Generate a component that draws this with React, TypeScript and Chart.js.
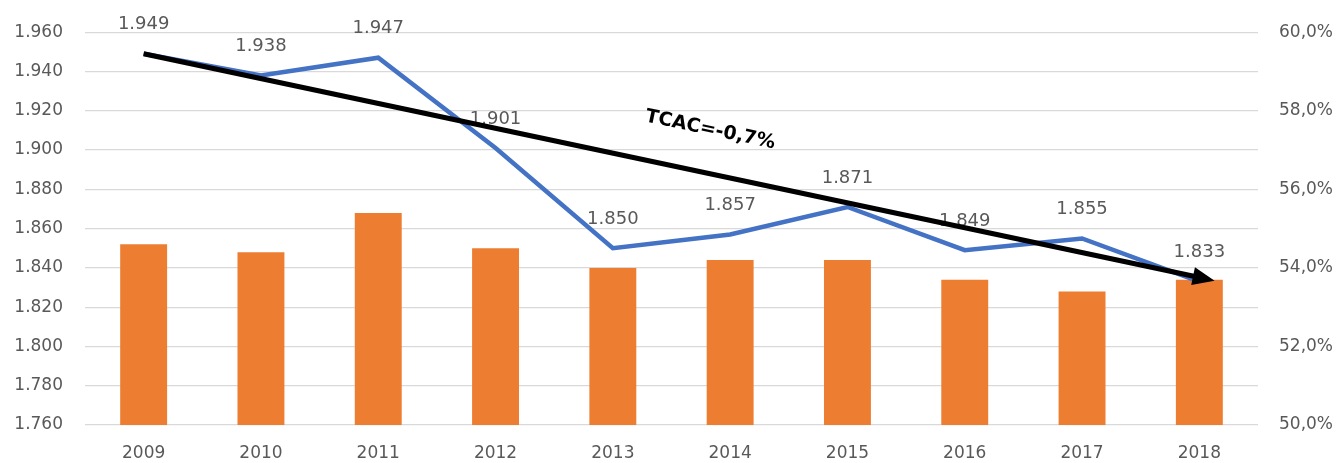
import React, { useEffect, useRef } from "react";
import { Chart, registerables } from "chart.js";

Chart.register(...registerables);

const years = ["2009", "2010", "2011", "2012", "2013", "2014", "2015", "2016", "2017", "2018"];
const lineValues = [1949, 1938, 1947, 1901, 1850, 1857, 1871, 1849, 1855, 1833];
const barValues = [54.6, 54.4, 55.4, 54.5, 54.0, 54.2, 54.2, 53.7, 53.4, 53.7];
const leftMin = 1760;
const leftMax = 1960;
const leftStep = 20;
const rightMin = 50;
const rightMax = 60;
const rightStep = 2;
const arrowStart = { x: 0, y: 1949 };
const arrowEnd = { x: 9.13, y: 1833.5 };
const trendLabel = "TCAC=-0,7%";
const trendLabelPos = { x: 4.83, y: 1910.2 };

const FONT = "'DejaVu Sans', sans-serif";
const GRAY = "#595959";

const fmtThousands = (n: number) => {
  const v = Math.round(n);
  return Math.floor(v / 1000) + "." + String(v % 1000).padStart(3, "0");
};

const overlayPlugin = {
  id: "overlay",
  afterDatasetsDraw(chart: any) {
    const ctx = chart.ctx;
    const x = chart.scales.x;
    const y = chart.scales.y;
    // data labels
    ctx.save();
    ctx.font = `18px ${FONT}`;
    ctx.fillStyle = GRAY;
    ctx.textAlign = "center";
    ctx.textBaseline = "middle";
    const meta = chart.getDatasetMeta(0);
    meta.data.forEach((pt: any, i: number) => {
      ctx.fillText(fmtThousands(lineValues[i]), pt.x, pt.y - 29);
    });
    ctx.restore();

    // arrow
    const x0 = x.getPixelForValue(arrowStart.x);
    const y0 = y.getPixelForValue(arrowStart.y);
    const x1 = x.getPixelForValue(arrowEnd.x);
    const y1 = y.getPixelForValue(arrowEnd.y);
    const ang = Math.atan2(y1 - y0, x1 - x0);
    const headLen = 22;
    const headW = 9;
    ctx.save();
    ctx.strokeStyle = "#000";
    ctx.fillStyle = "#000";
    ctx.lineWidth = 5;
    ctx.lineCap = "butt";
    ctx.beginPath();
    ctx.moveTo(x0, y0);
    ctx.lineTo(x1 - Math.cos(ang) * headLen * 0.8, y1 - Math.sin(ang) * headLen * 0.8);
    ctx.stroke();
    ctx.beginPath();
    ctx.moveTo(x1, y1);
    const bx = x1 - Math.cos(ang) * headLen;
    const by = y1 - Math.sin(ang) * headLen;
    ctx.lineTo(bx + Math.sin(ang) * headW, by - Math.cos(ang) * headW);
    ctx.lineTo(bx - Math.sin(ang) * headW, by + Math.cos(ang) * headW);
    ctx.closePath();
    ctx.fill();

    // trend label
    const tx = x.getPixelForValue(trendLabelPos.x);
    const ty = y.getPixelForValue(trendLabelPos.y);
    ctx.translate(tx, ty);
    ctx.rotate(ang);
    ctx.font = `bold 19px ${FONT}`;
    ctx.textAlign = "center";
    ctx.textBaseline = "middle";
    ctx.fillText(trendLabel, 0, 0);
    ctx.restore();
  },
};

export default function App() {
  const ref = useRef<HTMLCanvasElement | null>(null);
  useEffect(() => {
    if (!ref.current) return;
    const chart = new Chart(ref.current, {
      type: "bar",
      data: {
        labels: years,
        datasets: [
          {
            type: "line",
            data: lineValues,
            yAxisID: "y",
            borderColor: "#4472C4",
            borderWidth: 4.5,
            pointRadius: 0,
            tension: 0,
            fill: false,
            order: 0,
          } as any,
          {
            type: "bar",
            data: barValues,
            yAxisID: "y1",
            backgroundColor: "#ED7D31",
            barPercentage: 0.4,
            categoryPercentage: 1,
            order: 1,
          },
        ],
      },
      options: {
        animation: false,
        responsive: true,
        maintainAspectRatio: false,
        layout: { padding: { top: 31, left: 0, right: 0, bottom: 0 } },
        plugins: {
          legend: { display: false },
          tooltip: { enabled: false },
        },
        scales: {
          x: {
            grid: { display: false },
            border: { display: false },
            ticks: { color: GRAY, font: { family: FONT, size: 17 }, padding: 10, maxRotation: 0 },
            afterFit: (s: any) => {
              s.height = 38;
            },
          },
          y: {
            position: "left",
            min: leftMin,
            max: leftMax,
            border: { display: false },
            grid: { color: "#d9d9d9", lineWidth: 1.3, drawTicks: false },
            ticks: {
              stepSize: leftStep,
              color: GRAY,
              font: { family: FONT, size: 17 },
              padding: 22,
              callback: (v: any) => fmtThousands(Number(v)),
            },
            afterFit: (s: any) => {
              s.width = 85;
            },
          },
          y1: {
            position: "right",
            min: rightMin,
            max: rightMax,
            border: { display: false },
            grid: { display: false, drawTicks: false },
            ticks: {
              stepSize: rightStep,
              color: GRAY,
              font: { family: FONT, size: 17 },
              padding: 21,
              callback: (v: any) => Number(v).toFixed(1).replace(".", ",") + "%",
            },
            afterFit: (s: any) => {
              s.width = 82;
            },
          },
        },
      },
      plugins: [overlayPlugin],
    });
    return () => chart.destroy();
  }, []);
  return (
    <div style={{ position: "fixed", left: 0, top: 0, width: 1340, height: 463, background: "#fff" }}>
      <canvas ref={ref} />
    </div>
  );
}
